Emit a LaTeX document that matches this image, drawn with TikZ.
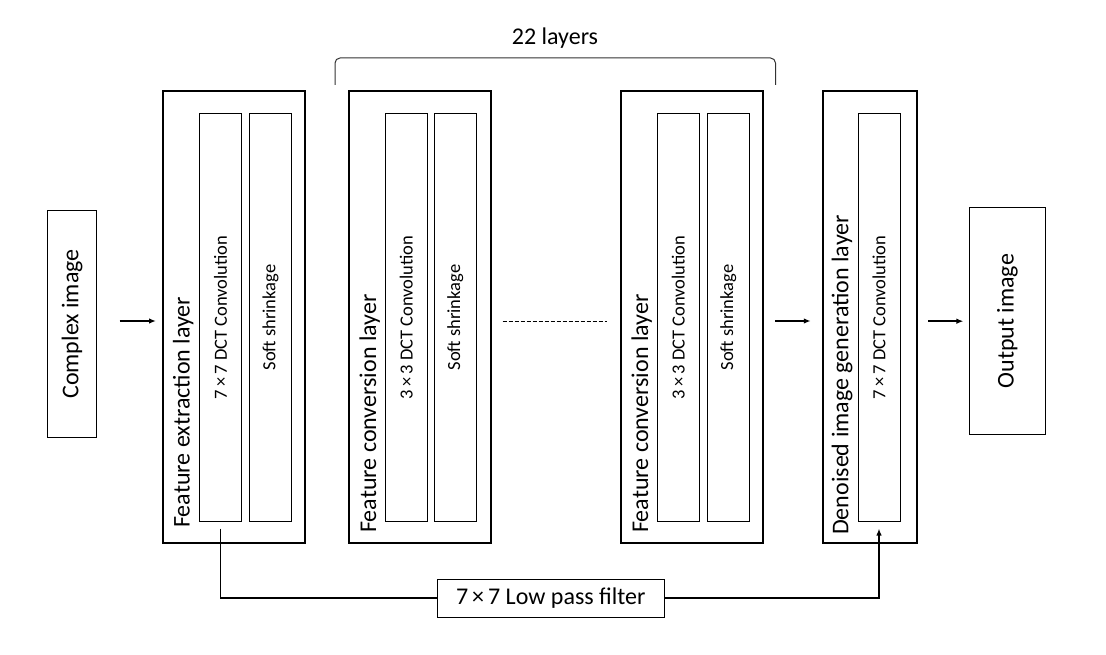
\documentclass[tikz,border=0pt]{standalone}
\usepackage{fontspec}
\setmainfont{Carlito}
\usetikzlibrary{arrows.meta}
\newcommand{\bigf}{\fontsize{24}{28}\selectfont}
\newcommand{\smallf}{\fontsize{18.5}{22}\selectfont}
\begin{document}
\begin{tikzpicture}[x=1pt,y=-1pt,
  outerbox/.style={draw, line width=2pt, inner sep=0pt, minimum width=142pt, minimum height=452pt},
  innerbox/.style={draw, line width=1pt, inner sep=0pt, minimum width=42pt, minimum height=407pt},
  termbox/.style={draw, line width=1pt, inner sep=0pt},
  lbl/.style={rotate=90, anchor=base west, inner sep=0pt, font=\bigf},
  ctxt/.style={rotate=90, inner sep=0pt, font=\bigf},
  smalltxt/.style={rotate=90, inner sep=0pt, font=\smallf},
  arr/.style={line width=1.5pt, -{Latex[length=7pt,width=5.5pt]}},
  conn/.style={line width=1.8pt},
  bracketline/.style={line width=1pt, draw=black!80, rounded corners=5pt}]
\useasboundingbox (0,0) rectangle (1106,655);

% input / output
\node[termbox, minimum width=49.5pt, minimum height=226.5pt] (cin) at (72,324) {};
\node[ctxt] (cint) at (cin.center) {Complex image};
\node[termbox, minimum width=76.5pt, minimum height=226.5pt] (out) at (1007.5,321.2) {};
\node[ctxt] (outt) at (out.center) {Output image};

% feature extraction layer
\node[outerbox] (fe) at (234,317) {};
\node[innerbox] (fe1) at (220.5,317.5) {};
\node[innerbox] (fe2) at (270.5,317.5) {};
\node[smalltxt] (fe1t) at (fe1.center) {7\,×\,7 DCT Convolution};
\node[smalltxt] (fe2t) at (fe2.center) {Soft shrinkage};
\node[lbl] (fel) at (189.5,528) {Feature extraction layer};

% feature conversion layer 1
\node[outerbox] (fc1) at (420,317) {};
\node[innerbox] (fc1a) at (406.2,317.5) {};
\node[innerbox] (fc1b) at (455.3,317.5) {};
\node[smalltxt] (fc1at) at (fc1a.center) {3\,×\,3 DCT Convolution};
\node[smalltxt] (fc1bt) at (fc1b.center) {Soft shrinkage};
\node[lbl] (fc1l) at (376,533) {Feature conversion layer};

% feature conversion layer 2
\node[outerbox] (fc2) at (692,317) {};
\node[innerbox] (fc2a) at (678.3,317.5) {};
\node[innerbox] (fc2b) at (728.3,317.5) {};
\node[smalltxt] (fc2at) at (fc2a.center) {3\,×\,3 DCT Convolution};
\node[smalltxt] (fc2bt) at (fc2b.center) {Soft shrinkage};
\node[lbl] (fc2l) at (648,533) {Feature conversion layer};

% denoised image generation layer
\node[outerbox, minimum width=94.5pt] (dg) at (870,317) {};
\node[innerbox] (dga) at (879,317.5) {};
\node[smalltxt] (dgat) at (dga.center) {7\,×\,7 DCT Convolution};
\node[lbl] (dgl) at (848.3,535) {Denoised image generation layer};

% low pass filter
\node[termbox, minimum width=227pt, minimum height=38pt, font=\bigf] (lp) at (550.8,598.3) {7\,×\,7 Low pass filter};

% bracket
\coordinate (b1) at (335,85);
\coordinate (b2) at (775.5,85);
\draw[bracketline] (b1) -- (335,58) -- (775.5,58) -- (b2);
\node[font=\bigf, anchor=base, inner sep=0pt] (brt) at (555,44.5) {22 layers};

% connectors
\draw[arr, shorten <=22.3pt, shorten >=6pt] ([yshift=3pt]cin.east) -- ([yshift=3pt]cin.east -| fe.west);
\draw[line width=1pt, dash pattern=on 4pt off 2pt, shorten <=10.7pt, shorten >=13pt] ([yshift=-4pt]fc1.east) -- ([yshift=-4pt]fc1.east -| fc2.west);
\draw[arr, shorten <=11pt, shorten >=11pt] ([yshift=-4pt]fc2.east) -- ([yshift=-4pt]fc2.east -| dg.west);
\draw[arr, shorten <=10pt, shorten >=5.3pt] (dg.east |- out.west) -- (out.west);
\draw[conn] ([yshift=-7pt]fe1.south) -- (fe1.south |- lp.west) -- (lp.west);
\draw[conn, -{Latex[length=7pt,width=5.5pt]}] (lp.east) -| ([yshift=-7pt]dga.south);
\end{tikzpicture}
\end{document}
